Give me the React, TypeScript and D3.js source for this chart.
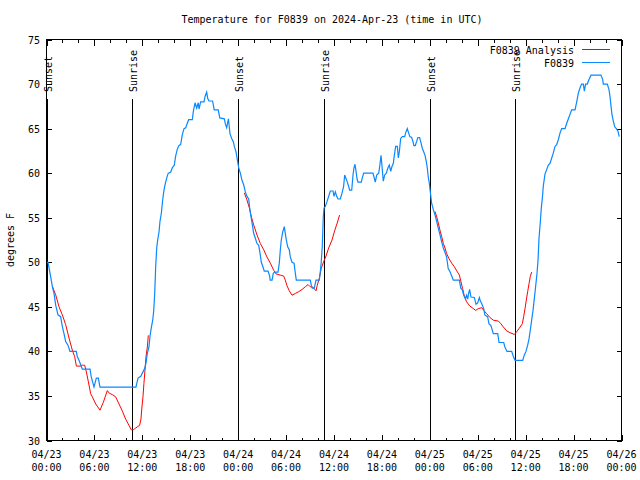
import React from "react";
import * as d3 from "d3";

const title = "Temperature for F0839 on 2024-Apr-23 (time in UTC)";
const yLabel = "degrees F";

// hours since 2024-04-23 00:00 UTC
const xTickHours = [0, 6, 12, 18, 24, 30, 36, 42, 48, 54, 60, 66, 72];
const xTickDates = ["04/23", "04/23", "04/23", "04/23", "04/24", "04/24", "04/24", "04/24", "04/25", "04/25", "04/25", "04/25", "04/26"];
const xTickTimes = ["00:00", "06:00", "12:00", "18:00", "00:00", "06:00", "12:00", "18:00", "00:00", "06:00", "12:00", "18:00", "00:00"];
const xMinorHours = [2, 4, 8, 10, 14, 16, 20, 22, 26, 28, 32, 34, 38, 40, 44, 46, 50, 52, 56, 58, 62, 64, 68, 70];
const yTicks = [30, 35, 40, 45, 50, 55, 60, 65, 70, 75];

const sunEvents: [string, number][] = [
  ["Sunset", 0.02],
  ["Sunrise", 10.74],
  ["Sunset", 24.02],
  ["Sunrise", 34.79],
  ["Sunset", 48.06],
  ["Sunrise", 58.7],
];

const station: [number, number][] = [
  [0.0, 50.0], [0.19, 50.0], [0.52, 48.4], [0.73, 47.3], [0.94, 46.5], [1.15, 45.2], [1.44, 44.1],
  [1.77, 43.9], [1.98, 42.8], [2.19, 42.0], [2.4, 41.1], [2.69, 40.7], [2.94, 40.0], [3.73, 40.0],
  [3.86, 39.4], [4.07, 39.0], [4.28, 38.5], [4.49, 38.0], [5.45, 38.0], [5.61, 37.1], [5.95, 36.0],
  [6.24, 37.0], [6.49, 37.0], [6.7, 36.0], [11.2, 36.0], [11.46, 37.0], [11.8, 37.2], [12.08, 37.7],
  [12.3, 38.1], [12.46, 38.7], [12.63, 39.8], [12.83, 40.5], [12.96, 41.7], [13.13, 42.7], [13.3, 43.5],
  [13.42, 44.5], [13.55, 46.5], [13.67, 49.5], [13.8, 51.6], [13.92, 52.5], [14.09, 53.4], [14.21, 54.6],
  [14.38, 55.5], [14.5, 56.6], [14.63, 57.6], [14.75, 58.3], [14.92, 59.0], [15.13, 59.7], [15.25, 60.0],
  [15.55, 60.1], [15.75, 60.6], [16.0, 60.9], [16.17, 61.9], [16.38, 62.7], [16.59, 63.1], [16.8, 63.2],
  [17.0, 64.3], [17.22, 65.0], [17.43, 65.1], [17.63, 65.6], [17.8, 66.0], [18.26, 66.0], [18.38, 66.9],
  [18.6, 67.9], [18.81, 67.3], [19.0, 67.9], [19.1, 67.2], [19.3, 68.0], [19.72, 68.0], [19.85, 68.6],
  [20.06, 69.1], [20.18, 68.4], [20.35, 68.1], [20.8, 68.1], [21.0, 67.1], [21.5, 67.1], [21.7, 66.2],
  [22.27, 66.1], [22.4, 65.5], [22.56, 65.1], [22.78, 66.1], [22.9, 65.1], [22.98, 64.4], [23.19, 63.9],
  [23.4, 63.5], [23.52, 63.0], [23.73, 62.4], [23.9, 61.5], [24.07, 60.6], [24.27, 60.0], [24.48, 59.2],
  [24.69, 58.7], [24.9, 57.9], [25.1, 57.4], [25.32, 57.1], [25.44, 56.1], [25.61, 55.1], [25.78, 54.2],
  [25.94, 53.25], [26.15, 52.7], [26.36, 52.1], [26.57, 51.9], [26.74, 51.0], [26.9, 50.0], [27.1, 49.5],
  [27.27, 49.0], [27.74, 49.0], [27.95, 48.45], [28.0, 48.0], [28.24, 48.0], [28.4, 48.75], [28.57, 48.9],
  [28.99, 48.9], [29.15, 49.9], [29.28, 51.4], [29.4, 52.5], [29.58, 53.4], [29.78, 54.0], [29.9, 53.25],
  [30.03, 52.5], [30.2, 51.75], [30.4, 51.4], [30.53, 50.6], [30.74, 50.0], [31.0, 49.9], [31.16, 48.75],
  [31.28, 48.0], [33.03, 48.0], [33.16, 47.4], [33.28, 47.1], [33.53, 47.1], [33.75, 48.0], [34.16, 48.0],
  [34.28, 48.9], [34.4, 50.0], [34.53, 51.75], [34.66, 55.1], [34.75, 56.1], [34.9, 56.25], [35.12, 56.8],
  [35.33, 57.4], [35.54, 58.0], [35.88, 58.0], [36.0, 57.4], [36.17, 57.9], [36.34, 57.4], [36.5, 57.1],
  [36.79, 57.1], [37.0, 57.75], [37.2, 58.5], [37.34, 59.8], [37.5, 59.4], [37.67, 59.0], [37.84, 58.5],
  [37.96, 58.1], [38.22, 58.1], [38.38, 59.8], [38.5, 60.6], [38.63, 61.0], [38.76, 60.2], [38.88, 59.4],
  [39.0, 59.0], [39.42, 59.0], [39.55, 59.5], [39.72, 60.0], [40.88, 60.0], [41.0, 59.6], [41.17, 59.0],
  [41.35, 59.8], [41.6, 60.0], [41.72, 60.75], [41.89, 62.0], [42.0, 60.9], [42.17, 59.1], [42.35, 59.8],
  [42.55, 60.0], [42.76, 60.6], [42.93, 60.9], [43.1, 60.2], [43.26, 60.75], [43.43, 61.1], [43.55, 62.0],
  [43.72, 63.0], [43.93, 63.0], [44.06, 61.7], [44.18, 62.4], [44.35, 63.9], [44.55, 64.1], [44.85, 64.1],
  [45.0, 64.6], [45.18, 65.0], [45.35, 64.5], [45.5, 64.1], [45.72, 64.0], [45.89, 63.56], [46.0, 63.1],
  [46.18, 63.1], [46.35, 63.56], [46.5, 64.0], [46.72, 64.0], [46.9, 63.4], [47.05, 62.8], [47.23, 62.4],
  [47.4, 62.0], [47.56, 61.3], [47.68, 60.6], [47.8, 59.6], [47.93, 58.9], [48.06, 57.9], [48.23, 56.6],
  [48.44, 55.9], [48.65, 55.3], [48.86, 54.6], [49.06, 53.8], [49.27, 53.1], [49.48, 52.3], [49.69, 51.6],
  [49.9, 51.1], [50.1, 50.6], [50.3, 49.3], [50.5, 49.0], [50.74, 48.45], [50.94, 48.0], [51.7, 48.0],
  [51.87, 47.1], [52.07, 46.9], [52.24, 46.3], [52.45, 45.9], [52.6, 46.3], [52.74, 45.86], [52.86, 46.5],
  [52.98, 46.95], [53.15, 46.1], [53.57, 46.05], [53.78, 45.3], [53.99, 45.45], [54.2, 46.05], [54.32, 45.67],
  [54.49, 45.38], [54.74, 44.8], [54.9, 44.06], [55.24, 43.9], [55.4, 43.1], [55.66, 42.86], [55.95, 42.0],
  [56.5, 42.0], [56.66, 41.0], [57.25, 41.0], [57.4, 40.5], [57.66, 40.0], [58.25, 40.0], [58.45, 39.45],
  [58.67, 39.0], [59.63, 39.0], [59.83, 39.6], [60.04, 40.0], [60.25, 40.7], [60.42, 41.4], [60.58, 42.4],
  [60.75, 43.5], [60.92, 44.6], [61.08, 45.9], [61.26, 47.4], [61.42, 48.75], [61.55, 50.25], [61.67, 52.7],
  [61.84, 54.6], [61.96, 56.1], [62.13, 57.6], [62.2, 58.5], [62.42, 59.9], [62.63, 60.4], [62.84, 60.9],
  [63.05, 61.1], [63.26, 61.7], [63.46, 62.25], [63.67, 63.0], [63.88, 63.2], [64.09, 63.75], [64.3, 64.5],
  [64.51, 65.0], [64.93, 65.0], [65.14, 65.6], [65.35, 66.1], [65.55, 66.6], [65.76, 67.1], [66.18, 67.1],
  [66.39, 68.0], [66.6, 69.0], [66.8, 69.56], [67.0, 70.0], [67.22, 70.0], [67.35, 69.2], [67.5, 70.0],
  [67.72, 70.0], [67.93, 70.5], [68.18, 71.0], [69.43, 71.0], [69.65, 70.5], [69.72, 70.0], [70.22, 70.0],
  [70.43, 69.4], [70.56, 68.6], [70.69, 67.5], [70.81, 66.56], [70.98, 65.8], [71.15, 65.2], [71.35, 65.0],
  [71.56, 64.7], [71.72, 64.1],
];

const analysisNight1: [number, number][] = [
  [0.73, 47.3], [1.15, 46.35], [1.57, 45.0], [1.98, 44.1], [2.4, 43.0], [2.82, 41.5], [3.23, 40.15],
  [3.53, 39.4], [3.74, 38.35], [4.28, 38.35], [4.49, 38.45], [4.78, 38.45], [4.99, 37.7], [5.24, 36.6],
  [5.53, 35.26], [5.74, 34.9], [6.16, 34.1], [6.7, 33.4], [7.12, 34.3], [7.62, 35.6], [7.87, 35.3],
  [8.24, 35.15], [8.66, 34.9], [9.08, 34.1], [9.5, 33.3], [9.91, 32.4], [10.33, 31.7], [10.62, 31.2],
  [10.87, 31.2], [11.16, 31.4], [11.66, 31.7], [11.83, 32.4], [11.95, 33.76], [12.08, 34.9], [12.2, 36.4],
  [12.33, 37.9], [12.46, 39.4], [12.63, 40.5], [12.75, 41.8],
];

const analysisNight2: [number, number][] = [
  [24.77, 57.8], [25.1, 57.0], [25.4, 56.1], [25.65, 55.1], [25.94, 54.2], [26.36, 53.06], [26.78, 52.1],
  [27.2, 51.4], [27.6, 50.6], [28.03, 49.9], [28.45, 49.1], [28.74, 48.7], [29.28, 48.56], [29.7, 48.45],
  [29.9, 48.0], [30.1, 47.4], [30.4, 46.8], [30.74, 46.3], [31.16, 46.5], [31.58, 46.7], [32.0, 46.95],
  [32.4, 47.25], [32.75, 47.5], [33.03, 47.25], [33.37, 47.2], [33.75, 46.8], [33.9, 47.4], [34.16, 48.2],
  [34.4, 49.3], [34.7, 50.06], [35.0, 50.7], [35.33, 51.6], [35.75, 52.5], [36.1, 53.6], [36.4, 54.4],
  [36.7, 55.3],
];

const analysisNight3: [number, number][] = [
  [48.65, 55.7], [48.86, 55.1], [49.06, 54.4], [49.27, 53.6], [49.48, 52.9], [49.69, 52.1], [49.9, 51.6],
  [50.1, 51.0], [50.4, 50.4], [50.74, 49.9], [51.07, 49.5], [51.36, 49.05], [51.7, 48.56], [51.9, 47.8],
  [52.1, 47.07], [52.3, 46.3], [52.6, 45.56], [53.0, 45.1], [53.45, 44.8], [53.74, 44.6], [54.07, 44.8],
  [54.5, 44.9], [54.8, 44.55], [55.1, 44.25], [55.53, 43.8], [55.95, 43.5], [56.58, 43.4], [56.9, 43.1],
  [57.2, 42.75], [57.63, 42.3], [58.04, 42.1], [58.58, 41.9], [58.87, 42.2], [59.17, 42.56], [59.58, 43.1],
  [59.75, 43.9], [59.92, 44.8], [60.08, 45.75], [60.25, 46.7], [60.42, 47.6], [60.58, 48.4], [60.75, 48.9],
];

const legendNames = ["F0839 Analysis", "F0839"];
const ANALYSIS_COLOR = "#ff0000";
const STATION_COLOR = "#0a88ff";

export default function App() {
  const W = 640, H = 480;
  const left = 46.5, right = 621.5, top = 39.5, bottom = 440.5;
  const x = d3.scaleLinear().domain([0, 72]).range([left, right]);
  const y = d3.scaleLinear().domain([30, 75]).range([bottom, top]);
  const line = d3.line<[number, number]>().x((d) => x(d[0])).y((d) => y(d[1]));
  const font = "'DejaVu Sans Mono', 'Liberation Mono', monospace";
  const major = 6, minor = 3, yTick = 5;

  return (
    <svg width={W} height={H} style={{ position: "absolute", left: 0, top: 0, display: "block", background: "#fff" }} fontFamily={font} fontSize={10}>
      <rect x={0} y={0} width={W} height={H} fill="#fff" />
      <text x={332} y={23} textAnchor="middle" fill="#000">{title}</text>

      {/* ticks */}
      <g stroke="#000" strokeWidth={1} shapeRendering="crispEdges">
        {xTickHours.map((h) => (
          <g key={"M" + h}>
            <line x1={Math.round(x(h)) + 0.5} x2={Math.round(x(h)) + 0.5} y1={bottom} y2={bottom - major} />
            <line x1={Math.round(x(h)) + 0.5} x2={Math.round(x(h)) + 0.5} y1={top} y2={top + major} />
          </g>
        ))}
        {xMinorHours.map((h) => (
          <g key={"m" + h}>
            <line x1={Math.round(x(h)) + 0.5} x2={Math.round(x(h)) + 0.5} y1={bottom} y2={bottom - minor} />
            <line x1={Math.round(x(h)) + 0.5} x2={Math.round(x(h)) + 0.5} y1={top} y2={top + minor} />
          </g>
        ))}
        {yTicks.map((t) => (
          <g key={"y" + t}>
            <line x1={left} x2={left + yTick} y1={Math.round(y(t)) + 0.5} y2={Math.round(y(t)) + 0.5} />
            <line x1={right} x2={right - yTick} y1={Math.round(y(t)) + 0.5} y2={Math.round(y(t)) + 0.5} />
          </g>
        ))}
      </g>

      {/* tick labels */}
      {xTickHours.map((h, i) => (
        <g key={"xl" + h}>
          <text x={x(h)} y={458} textAnchor="middle" fill="#000">{xTickDates[i]}</text>
          <text x={x(h)} y={471} textAnchor="middle" fill="#000">{xTickTimes[i]}</text>
        </g>
      ))}
      {yTicks.map((t) => (
        <text key={"yl" + t} x={40} y={y(t) + 4} textAnchor="end" fill="#000">{t}</text>
      ))}
      <text transform={`translate(14,${(top + bottom) / 2}) rotate(-90)`} textAnchor="middle" fill="#000">{yLabel}</text>

      {/* sunrise / sunset markers */}
      {sunEvents.map(([label, h], i) => (
        <g key={"s" + i}>
          <line x1={Math.round(x(h)) + 0.5} x2={Math.round(x(h)) + 0.5} y1={99} y2={bottom} stroke="#000" strokeWidth={1} shapeRendering="crispEdges" />
          <text transform={`translate(${x(h) + 5},92) rotate(-90)`} textAnchor="start" fill="#000">{label}</text>
        </g>
      ))}

      {/* data */}
      {[analysisNight1, analysisNight2, analysisNight3].map((seg, i) => (
        <path key={"a" + i} d={line(seg) || ""} fill="none" stroke={ANALYSIS_COLOR} strokeWidth={1} />
      ))}
      <path d={line(station) || ""} fill="none" stroke={STATION_COLOR} strokeWidth={1.2} />

      {/* frame */}
      <rect x={left} y={top} width={right - left} height={bottom - top} fill="none" stroke="#000" strokeWidth={1} shapeRendering="crispEdges" />

      {/* legend */}
      <text x={574} y={54} textAnchor="end" fill="#000">{legendNames[0]}</text>
      <line x1={582} x2={610} y1={49.5} y2={49.5} stroke={ANALYSIS_COLOR} strokeWidth={1} shapeRendering="crispEdges" />
      <text x={574} y={67} textAnchor="end" fill="#000">{legendNames[1]}</text>
      <line x1={582} x2={610} y1={62.5} y2={62.5} stroke={STATION_COLOR} strokeWidth={1} shapeRendering="crispEdges" />
    </svg>
  );
}
